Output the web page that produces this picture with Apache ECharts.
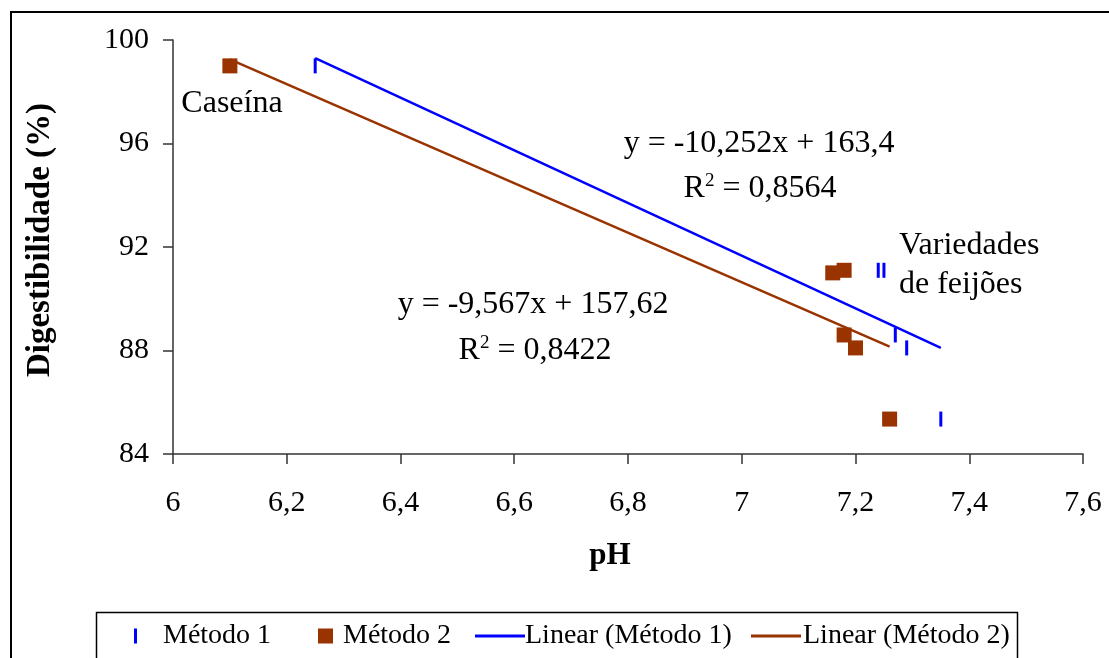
<!DOCTYPE html>
<html>
<head>
<meta charset="utf-8">
<script src="https://cdn.jsdelivr.net/npm/echarts@6/dist/echarts.min.js"></script>
<style>
  html, body { margin: 0; padding: 0; background: #fff; }
  #chart { width: 1109px; height: 658px; }
</style>
</head>
<body>
<div id="chart"></div>
<script>
// ---- Data ----
const ph1 = [6.25, 7.24, 7.25, 7.27, 7.29, 7.35];        // Método 1 pH
const dig1 = [99.0, 91.1, 91.1, 88.6, 88.1, 85.35];     // Método 1 digestibilidade
const ph2 = [6.10, 7.16, 7.18, 7.18, 7.20, 7.26];        // Método 2 pH
const dig2 = [99.0, 91.0, 91.1, 88.6, 88.1, 85.35];     // Método 2 digestibilidade
const trend1X = [6.25, 7.35];
const trend1Y = [99.3, 88.1];
const trend2X = [6.10, 7.26];
const trend2Y = [99.25, 88.15];
const seriesNames = ['Método 1', 'Método 2', 'Linear (Método 1)', 'Linear (Método 2)'];
const eq1 = ['y = -10,252x + 163,4', '0,8564'];
const eq2 = ['y = -9,567x + 157,62', '0,8422'];
const labelCaseina = 'Caseína';
const labelVariedades = ['Variedades', 'de feijões'];

const zip = (xs, ys) => xs.map((x, i) => [x, ys[i]]);
const FONT = '"Liberation Serif", "Times New Roman", serif';
const BLUE = '#0000FF';
const BROWN = '#993300';
const ANN = '32px ' + FONT;

const chart = echarts.init(document.getElementById('chart'), null, { renderer: 'canvas' });

const legendBase = {
  top: 622,
  padding: 0,
  orient: 'horizontal',
  textStyle: { fontFamily: FONT, fontSize: 28, color: '#000' },
  selectedMode: false
};
const lt = pad => Object.assign({}, legendBase.textStyle, { padding: [0, 0, 0, pad] });

const option = {
  backgroundColor: '#fff',
  animation: false,
  grid: { left: 173, right: 26, top: 40, bottom: 204, containLabel: false },
  xAxis: {
    type: 'value', min: 6, max: 7.6, interval: 0.2,
    name: 'pH', nameLocation: 'middle', nameGap: 86,
    nameTextStyle: { fontFamily: FONT, fontSize: 31, fontWeight: 'bold', color: '#000', padding: [0, 36, 0, 0] },
    axisLine: { show: true, onZero: false, lineStyle: { color: '#333', width: 1.5 } },
    axisTick: { show: true, inside: false, length: 10, lineStyle: { color: '#333', width: 1.5 } },
    axisLabel: {
      fontFamily: FONT, fontSize: 30, color: '#000', margin: 34,
      formatter: v => String(+v.toFixed(1)).replace('.', ',')
    },
    splitLine: { show: false }
  },
  yAxis: {
    type: 'value', min: 84, max: 100, interval: 4,
    name: 'Digestibilidade (%)', nameLocation: 'middle', nameGap: 116, nameRotate: 90,
    nameTextStyle: { fontFamily: FONT, fontSize: 33, fontWeight: 'bold', color: '#000', padding: [0, 0, 0, 14] },
    axisLine: { show: true, onZero: false, lineStyle: { color: '#333', width: 1.5 } },
    axisTick: { show: true, inside: false, length: 10, lineStyle: { color: '#333', width: 1.5 } },
    axisLabel: { fontFamily: FONT, fontSize: 30, color: '#000', margin: 24 },
    splitLine: { show: false }
  },
  legend: [
    Object.assign({}, legendBase, { left: 134, data: [{ name: seriesNames[0], icon: 'rect' }], itemWidth: 3, itemHeight: 15, textStyle: lt(21) }),
    Object.assign({}, legendBase, { left: 318, data: [{ name: seriesNames[1], icon: 'rect' }], itemWidth: 15, itemHeight: 15, textStyle: lt(5) }),
    Object.assign({}, legendBase, { left: 475, data: [{ name: seriesNames[2], icon: 'rect' }], itemWidth: 50, itemHeight: 3, textStyle: lt(-5) }),
    Object.assign({}, legendBase, { left: 751, data: [{ name: seriesNames[3], icon: 'rect' }], itemWidth: 50, itemHeight: 3, textStyle: lt(-3) })
  ],
  series: [
    {
      name: seriesNames[2], type: 'line', data: zip(trend1X, trend1Y),
      symbol: 'none', lineStyle: { color: BLUE, width: 2.5 }, itemStyle: { color: BLUE }, z: 2
    },
    {
      name: seriesNames[3], type: 'line', data: zip(trend2X, trend2Y),
      symbol: 'none', lineStyle: { color: BROWN, width: 2.5 }, itemStyle: { color: BROWN }, z: 2
    },
    {
      name: seriesNames[0], type: 'scatter', data: zip(ph1, dig1),
      symbol: 'rect', symbolSize: [3, 15], itemStyle: { color: BLUE, opacity: 1 }, z: 3
    },
    {
      name: seriesNames[1], type: 'scatter', data: zip(ph2, dig2),
      symbol: 'rect', symbolSize: 15, itemStyle: { color: BROWN, opacity: 1 }, z: 3
    }
  ],
  graphic: [
    { type: 'rect', shape: { x: 11, y: 12, width: 1120, height: 700 }, style: { fill: 'none', stroke: '#000', lineWidth: 2 }, silent: true, z: 0 },
    { type: 'rect', shape: { x: 96.5, y: 612.5, width: 921, height: 80 }, style: { fill: 'none', stroke: '#000', lineWidth: 1.5 }, silent: true, z: 0 },
    { type: 'text', x: 232, y: 104, style: { text: labelCaseina, font: ANN, fill: '#000', textAlign: 'center', textVerticalAlign: 'middle' } },
    { type: 'text', x: 759, y: 144, style: { text: eq1[0], font: ANN, fill: '#000', textAlign: 'center', textVerticalAlign: 'middle' } },
    { type: 'text', x: 760, y: 189, style: {
        text: '{n|R}{s|2}{n| = ' + eq1[1] + '}', textAlign: 'center', textVerticalAlign: 'middle',
        rich: { n: { font: ANN, fill: '#000' }, s: { font: '19px ' + FONT, fill: '#000', padding: [0, 0, 16, 0] } } } },
    { type: 'text', x: 533, y: 305, style: { text: eq2[0], font: ANN, fill: '#000', textAlign: 'center', textVerticalAlign: 'middle' } },
    { type: 'text', x: 535, y: 351, style: {
        text: '{n|R}{s|2}{n| = ' + eq2[1] + '}', textAlign: 'center', textVerticalAlign: 'middle',
        rich: { n: { font: ANN, fill: '#000' }, s: { font: '19px ' + FONT, fill: '#000', padding: [0, 0, 16, 0] } } } },
    { type: 'text', x: 899, y: 246, style: { text: labelVariedades[0], font: ANN, fill: '#000', textAlign: 'left', textVerticalAlign: 'middle' } },
    { type: 'text', x: 899, y: 285, style: { text: labelVariedades[1], font: ANN, fill: '#000', textAlign: 'left', textVerticalAlign: 'middle' } }
  ]
};

chart.setOption(option);
</script>
</body>
</html>
